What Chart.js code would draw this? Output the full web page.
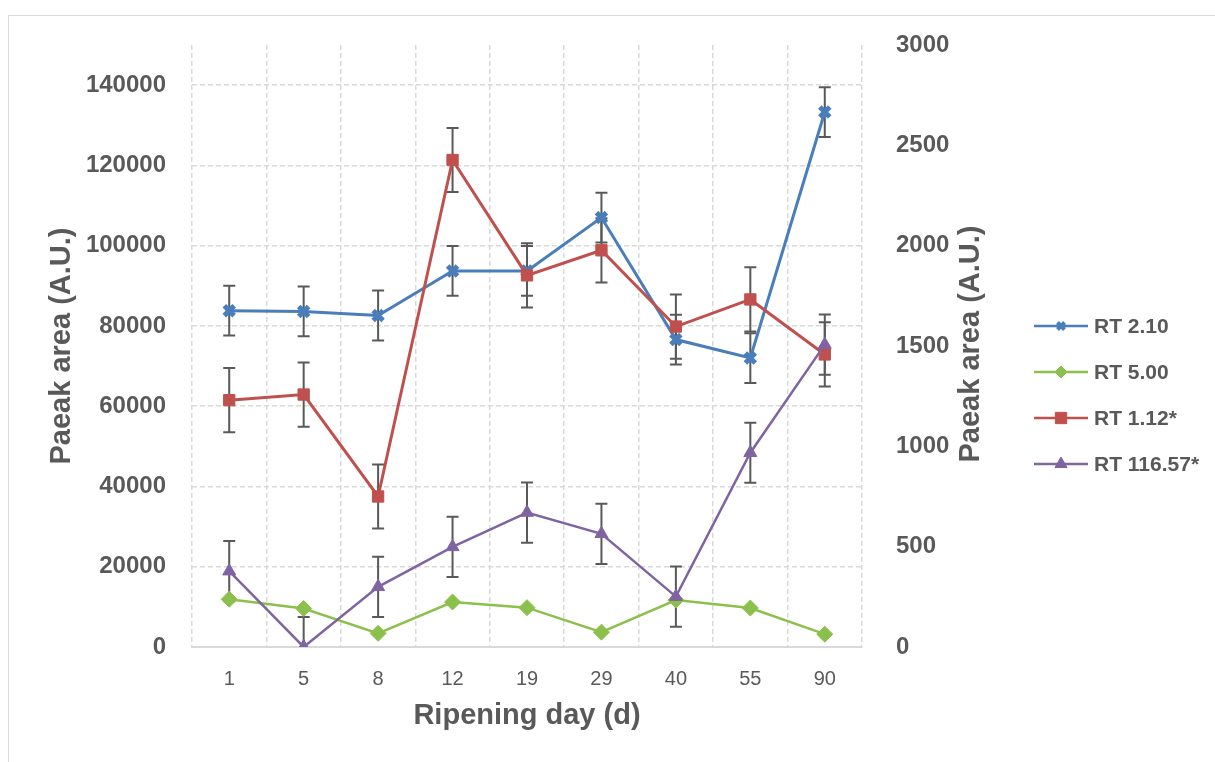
<!DOCTYPE html>
<html>
<head>
<meta charset="utf-8">
<script src="https://cdn.jsdelivr.net/npm/chart.js@4"></script>
<style>
  body { margin: 0; background: #fff; overflow: hidden; }
  #marco { position: absolute; left: 8px; top: 15px; width: 1215px; height: 800px; border: 1px solid #d9d9d9; }
  #grafico { position: absolute; left: 0; top: 0; }
</style>
</head>
<body>
<div id="marco"></div>
<canvas id="grafico" width="1215" height="762"></canvas>
<script>
// datos
const dias = ['1', '5', '8', '12', '19', '29', '40', '55', '90'];

const rt210 = [83800, 83600, 82600, 93700, 93700, 107000, 76600, 72000, 133300];
const rt210Err = [6200, 6200, 6200, 6200, 6200, 6200, 6200, 6200, 6200];

const rt500 = [11900, 9600, 3400, 11200, 9800, 3700, 11700, 9700, 3200];

const rt112 = [1230, 1258, 750, 2427, 1852, 1977, 1597, 1732, 1458];
const rt112Err = [160, 160, 160, 160, 160, 160, 160, 160, 160];

const rt11657 = [378, 0, 300, 499, 670, 564, 251, 968, 1507];
const rt11657Err = [150, 150, 150, 150, 150, 150, 150, 150, 150];

// marcas de los ejes
const ejeIzqMax = 150000;
const ticksIzq = [0, 20000, 40000, 60000, 80000, 100000, 120000, 140000];
const ejeDerMax = 3000;
const ticksDer = [0, 500, 1000, 1500, 2000, 2500, 3000];

const gris = '#595959';
const fuente = "'Liberation Sans', Arial, sans-serif";
const tituloY = 'Paeak area (A.U.)';

// barras de error
const barrasError = {
  id: 'barrasError',
  beforeDatasetsDraw(chart) {
    const ctx = chart.ctx;
    const area = chart.chartArea;
    ctx.save();
    ctx.beginPath();
    ctx.rect(area.left, area.top, area.right - area.left, area.bottom - area.top);
    ctx.clip();
    ctx.strokeStyle = gris;
    ctx.lineWidth = 2;
    chart.data.datasets.forEach((ds, i) => {
      if (!ds.err) return;
      const meta = chart.getDatasetMeta(i);
      const escala = chart.scales[ds.yAxisID];
      meta.data.forEach((p, j) => {
        const arriba = escala.getPixelForValue(ds.data[j] + ds.err[j]);
        const abajo = escala.getPixelForValue(ds.data[j] - ds.err[j]);
        ctx.beginPath();
        ctx.moveTo(p.x, arriba);
        ctx.lineTo(p.x, abajo);
        ctx.moveTo(p.x - 6, arriba);
        ctx.lineTo(p.x + 6, arriba);
        ctx.moveTo(p.x - 6, abajo);
        ctx.lineTo(p.x + 6, abajo);
        ctx.stroke();
      });
    });
    ctx.restore();
  }
};

// leyenda propia a la derecha y titulo del eje derecho (se lee de abajo hacia arriba)
const leyenda = {
  id: 'leyenda',
  afterDraw(chart) {
    const ctx = chart.ctx;
    const ys = [326, 372, 418, 464];
    const radios = [5, 6, 8, 7];
    ctx.save();
    chart.data.datasets.forEach((ds, k) => {
      const y = ys[k];
      ctx.strokeStyle = ds.borderColor;
      ctx.lineWidth = 2.5;
      ctx.beginPath();
      ctx.moveTo(1034, y);
      ctx.lineTo(1088, y);
      ctx.stroke();
      ctx.fillStyle = ds.borderColor;
      const bw = ds.pointStyle === 'crossRot' ? 4 : 1;
      ctx.lineWidth = bw;
      Chart.helpers.drawPoint(ctx, { pointStyle: ds.pointStyle, radius: radios[k], rotation: 0, borderWidth: bw }, 1061, y);
      ctx.fillStyle = gris;
      ctx.font = 'bold 21px ' + fuente;
      ctx.textBaseline = 'middle';
      ctx.textAlign = 'left';
      ctx.fillText(ds.label, 1094, y + 1);
    });

    ctx.translate(971, 344);
    ctx.rotate(-Math.PI / 2);
    ctx.font = 'bold 29px ' + fuente;
    ctx.fillStyle = gris;
    ctx.textAlign = 'center';
    ctx.textBaseline = 'middle';
    ctx.fillText(tituloY, 0, 0);
    ctx.restore();
  }
};

new Chart(document.getElementById('grafico'), {
  type: 'line',
  data: {
    labels: dias,
    datasets: [
      {
        label: 'RT 2.10', data: rt210, err: rt210Err, yAxisID: 'y',
        borderColor: '#4a7ebb', backgroundColor: '#4a7ebb', borderWidth: 3,
        pointStyle: 'crossRot', pointRadius: 7, pointBorderWidth: 5, order: 3
      },
      {
        label: 'RT 5.00', data: rt500, yAxisID: 'y',
        borderColor: '#8cc04c', backgroundColor: '#8cc04c', borderWidth: 2.5,
        pointStyle: 'rectRot', pointRadius: 8, pointBorderWidth: 1, order: 2
      },
      {
        label: 'RT 1.12*', data: rt112, err: rt112Err, yAxisID: 'y1',
        borderColor: '#c0504d', backgroundColor: '#c0504d', borderWidth: 3,
        pointStyle: 'rect', pointRadius: 8, pointBorderWidth: 1, order: 1
      },
      {
        label: 'RT 116.57*', data: rt11657, err: rt11657Err, yAxisID: 'y1',
        borderColor: '#8064a2', backgroundColor: '#8064a2', borderWidth: 2.5,
        pointStyle: 'triangle', pointRadius: 7.5, pointBorderWidth: 1, order: 0
      }
    ]
  },
  options: {
    responsive: false,
    animation: false,
    devicePixelRatio: 1,
    layout: { padding: { left: 44.6, right: 226.6, top: 45, bottom: 28.6 } },
    plugins: { legend: { display: false }, tooltip: { enabled: false } },
    elements: { line: { tension: 0 } },
    scales: {
      x: {
        offset: true,
        grid: { offset: true, color: '#d9d9d9', lineWidth: 1.5, drawTicks: false },
        border: { display: true, color: '#d9d9d9', width: 2, dash: [5, 3] },
        ticks: { color: gris, padding: 20, font: { family: fuente, size: 20 } },
        title: { display: true, text: 'Ripening day (d)', color: gris, padding: 0, font: { family: fuente, size: 29, weight: 'bold' } },
        afterFit(s) { s.height = 86.4; }
      },
      y: {
        position: 'left',
        min: 0, max: ejeIzqMax,
        grid: { color: '#d9d9d9', lineWidth: 1.5, drawTicks: false },
        border: { display: false, dash: [5, 3] },
        afterBuildTicks(s) { s.ticks = ticksIzq.map(v => ({ value: v })); },
        ticks: { color: gris, padding: 26, callback: v => String(v), font: { family: fuente, size: 24, weight: 'bold' } },
        title: { display: true, text: tituloY, color: gris, padding: 0, font: { family: fuente, size: 29, weight: 'bold' } },
        afterFit(s) { s.width = 147.4; }
      },
      y1: {
        position: 'right',
        min: 0, max: ejeDerMax,
        grid: { display: false },
        border: { display: false },
        afterBuildTicks(s) { s.ticks = ticksDer.map(v => ({ value: v })); },
        ticks: { color: gris, padding: 26, callback: v => String(v), font: { family: fuente, size: 24, weight: 'bold' } },
        title: { display: false },
        afterFit(s) { s.width = 126.4; }
      }
    }
  },
  plugins: [barrasError, leyenda]
});
</script>
</body>
</html>
